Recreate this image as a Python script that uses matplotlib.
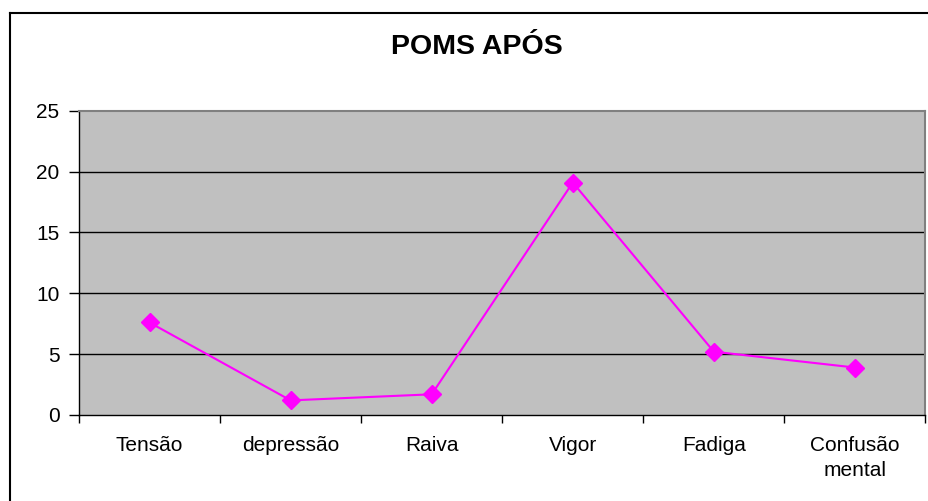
import matplotlib
matplotlib.use("Agg")
import matplotlib.pyplot as plt
from matplotlib.lines import Line2D
import numpy as np

# Dados do gráfico
categorias = ["Tensão", "depressão", "Raiva", "Vigor", "Fadiga", "Confusão\nmental"]
valores = [7.6, 1.2, 1.7, 19.1, 5.2, 3.9]
yticks = [0, 5, 10, 15, 20, 25]

plt.rcParams["font.family"] = ["Liberation Sans", "DejaVu Sans"]

fig = plt.figure(figsize=(9.29, 5.01), dpi=100)
fig.patch.set_facecolor("white")
ax = fig.add_axes([79 / 929, 1 - 415 / 501, (925.5 - 79) / 929, (415 - 110.7) / 501])
ax.set_facecolor("#C0C0C0")

x = np.arange(len(categorias))
ax.plot(x, valores, color="#FF00FF", lw=1.5, marker="D", ms=9,
        markerfacecolor="#FF00FF", markeredgecolor="#FF00FF", zorder=3)

ax.set_xlim(-0.5, len(categorias) - 0.5)
ax.set_ylim(0, 25)
ax.set_yticks(yticks)
ax.set_yticklabels([str(v) for v in yticks])

# grade horizontal
for v in yticks[1:-1]:
    ax.axhline(v, color="black", lw=1, zorder=1)

# ticks de categorias nos limites
ax.set_xticks(x)
ax.set_xticklabels(categorias, linespacing=1.4)
ax.set_xticks(np.arange(-0.5, len(categorias)), minor=True)
ax.tick_params(axis="x", which="major", length=0, pad=15, labelsize=15)
ax.tick_params(axis="x", which="minor", length=6, width=1, direction="out", color="black")
ax.tick_params(axis="y", length=7, width=1, direction="out", pad=7, labelsize=15)

for s in ["left", "bottom"]:
    ax.spines[s].set_color("black")
    ax.spines[s].set_linewidth(1)
for s in ["top", "right"]:
    ax.spines[s].set_color("#808080")
    ax.spines[s].set_linewidth(1.5)

fig.text(477 / 929, 1 - 47 / 501, "POMS APÓS", ha="center", va="center",
         fontsize=20.5, fontweight="bold")

# borda da área do gráfico
fig.add_artist(Line2D([10.5 / 929, 10.5 / 929], [0, 1 - 13 / 501], color="black", lw=1.5))
fig.add_artist(Line2D([10 / 929, 1], [1 - 13 / 501, 1 - 13 / 501], color="black", lw=1.5))

fig.savefig("out.png", dpi=100)
